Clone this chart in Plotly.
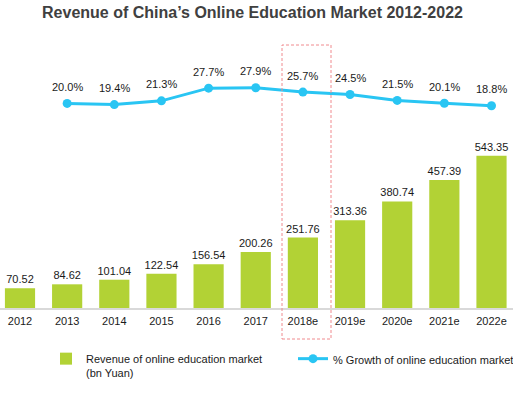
import plotly.graph_objects as go

years = ["2012", "2013", "2014", "2015", "2016", "2017", "2018e", "2019e", "2020e", "2021e", "2022e"]
revenue = [70.52, 84.62, 101.04, 122.54, 156.54, 200.26, 251.76, 313.36, 380.74, 457.39, 543.35]
growth_years = years[1:]
growth = [20.0, 19.4, 21.3, 27.7, 27.9, 25.7, 24.5, 21.5, 20.1, 18.8]

W, H = 513, 399
plot_top, plot_bot = 40, 308
ph = plot_bot - plot_top

bar_color = "#B2D235"
line_color = "#29C5F3"
text_color = "#1a1a1a"
font_fam = "Arial, Liberation Sans, sans-serif"

fig = go.Figure()
fig.add_trace(go.Bar(
    x=years, y=revenue, name="Revenue of online education market<br>(bn Yuan)",
    marker=dict(color=bar_color, line=dict(width=0)),
    text=[f"{v:.2f}" for v in revenue], textposition="outside",
    textfont=dict(size=11, color=text_color, family=font_fam),
    constraintext="none", cliponaxis=False, width=0.64,
))
fig.add_trace(go.Scatter(
    x=growth_years, y=growth, name="% Growth of online education market",
    mode="lines+markers", yaxis="y2",
    line=dict(color=line_color, width=3),
    marker=dict(color=line_color, size=9),
    cliponaxis=False,
))
for xv, gv in zip(growth_years, growth):
    fig.add_annotation(x=years.index(xv), y=gv, xref="x", yref="y2", text=f"{gv:.1f}%",
                       showarrow=False, yshift=16.5, yanchor="middle",
                       font=dict(size=11, color=text_color, family=font_fam))

px_per_unit = 0.28
px_per_pct = 1.98
zero_pct_px = 165  # px above plot bottom
cat_px = 47.15
x0 = -20 / cat_px
x1 = x0 + W / cat_px

# dashed highlight box around 2018e
fig.add_shape(type="rect", xref="x", yref="paper",
              x0=x0 + 282 / cat_px, x1=x0 + 331 / cat_px,
              y0=(plot_bot - 339) / ph, y1=(plot_bot - 45) / ph,
              line=dict(color="#F08A8E", width=1, dash="3px,2px"),
              fillcolor="rgba(0,0,0,0)", layer="above")

fig.update_layout(
    width=W, height=H,
    margin=dict(l=0, r=0, t=plot_top, b=H - plot_bot, pad=0, autoexpand=False),
    paper_bgcolor="white", plot_bgcolor="white",
    font=dict(family=font_fam, size=11, color=text_color),
    title=dict(text="<b>Revenue of China’s Online Education Market 2012-2022</b>",
               x=252.5 / W, xanchor="center", xref="container",
               y=1 - 12.5 / H, yanchor="middle", yref="container",
               font=dict(size=16, color="#404040", family=font_fam)),
    xaxis=dict(type="category", range=[x0, x1], showgrid=False, showline=True, automargin=False,
               linecolor="#D9D9D9", linewidth=1.5, ticks="", ticklabelstandoff=2,
               tickfont=dict(size=11, color=text_color)),
    yaxis=dict(range=[0, ph / px_per_unit], visible=False, showgrid=False, zeroline=False, automargin=False),
    yaxis2=dict(overlaying="y", range=[-zero_pct_px / px_per_pct, (ph - zero_pct_px) / px_per_pct],
                visible=False, showgrid=False, zeroline=False, automargin=False),
    showlegend=True,
    legend=dict(orientation="h", x=46 / W, xanchor="left", xref="container",
                y=1 - 345 / H, yanchor="top", yref="container",
                valign="top", entrywidth=202, entrywidthmode="pixels",
                font=dict(size=11, color=text_color, family=font_fam),
                bgcolor="rgba(0,0,0,0)"),
    bargap=0.36,
)

fig.write_html("out.html", config={"displayModeBar": False},
               post_script="document.body.style.margin='0';document.body.style.padding='0';")
